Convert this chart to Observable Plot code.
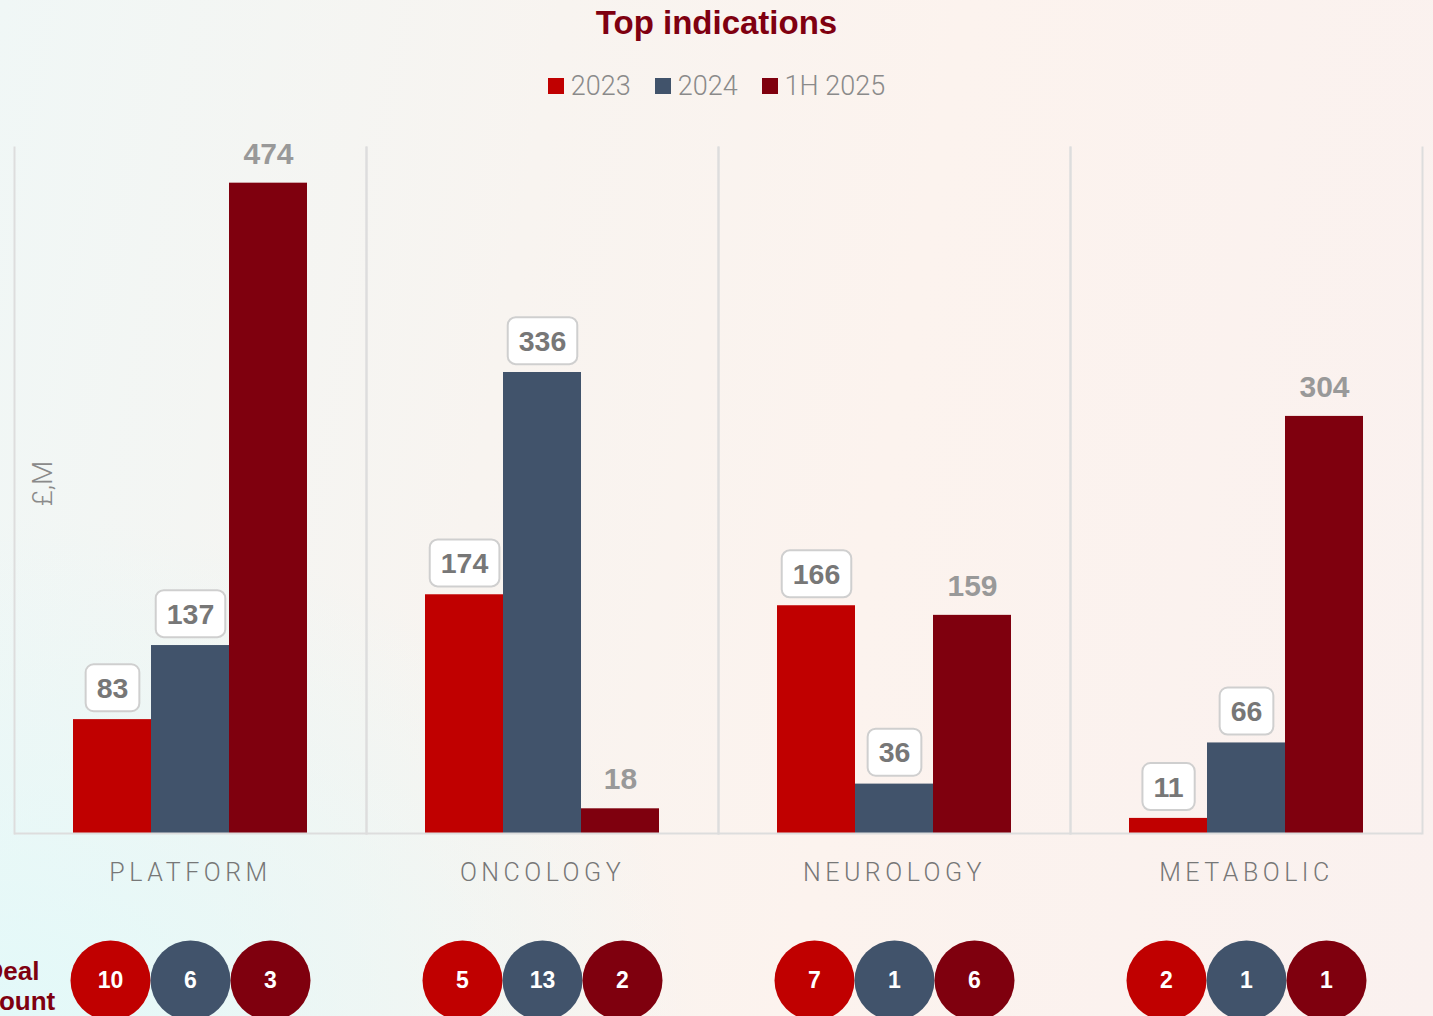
<!DOCTYPE html>
<html>
<head>
<meta charset="utf-8">
<script src="https://cdn.jsdelivr.net/npm/d3@7"></script>
<script src="https://cdn.jsdelivr.net/npm/@observablehq/plot@0.6"></script>
<style>
  html, body { margin: 0; padding: 0; }
  body {
    width: 1433px; height: 1016px; overflow: hidden;
    font-family: "Liberation Sans", Arial, sans-serif;
    background:
      radial-gradient(ellipse 700px 500px at 0% 100%, rgba(226,249,249,0.95), rgba(226,249,249,0) 100%),
      linear-gradient(100deg, #f0f7f6 0%, #f8f4f0 35%, #fcf3ee 60%, #faf1ef 100%);
  }
  #title { height: 46px; text-align: center; font-weight: bold; font-size: 33px; color: #7f0010; line-height: 46px; }
  #legend { height: 64px; display: flex; justify-content: center; align-items: center; gap: 24px; font-size: 27px; color: #8a8a8a; padding-top: 16px; box-sizing: border-box; font-family: Roboto, "Liberation Sans", sans-serif; font-weight: 300; }
  #legend .item { display: flex; align-items: center; gap: 7px; }
  #legend .sw { width: 16px; height: 16px; display: inline-block; }
  g[aria-description="cats"] text { letter-spacing: 4.5px; }
</style>
</head>
<body>
<div id="title">Top indications</div>
<div id="legend"></div>
<div id="chart"></div>
<script>
const categories = ["PLATFORM", "ONCOLOGY", "NEUROLOGY", "METABOLIC"];
const years = ["2023", "2024", "1H 2025"];
const colors = ["#c00000", "#41536b", "#7f000e"];
const values2023 = [83, 174, 166, 11];
const values2024 = [137, 336, 36, 66];
const values1H2025 = [474, 18, 159, 304];
const deals2023 = [10, 5, 7, 2];
const deals2024 = [6, 13, 1, 1];
const deals1H2025 = [3, 2, 6, 1];
const yLabel = "£,M";
const dealLabel = "Deal\ncount";
const bubbleOffsets = [-2, 0, 2];

const seriesValues = [values2023, values2024, values1H2025];
const seriesDeals = [deals2023, deals2024, deals1H2025];
const rows = [];
categories.forEach((c, ci) => years.forEach((y, yi) => rows.push({cat: c, year: y, value: seriesValues[yi][ci], deals: seriesDeals[yi][ci]})));

// legend
const lg = d3.select("#legend");
years.forEach((y, i) => {
  const it = lg.append("div").attr("class", "item");
  it.append("span").attr("class", "sw").style("background", colors[i]);
  it.append("span").text(y);
});

const boxed = rows.filter(d => d.year !== years[2]);
const plain = rows.filter(d => d.year === years[2]);

const bubbleMarks = years.flatMap((y, i) => {
  const data = rows.filter(d => d.year === y);
  return [
    Plot.dot(data, {fx: "cat", x: "year", frameAnchor: "bottom", dy: 147, dx: bubbleOffsets[i], r: 40, fill: "year", stroke: "none"}),
    Plot.text(data, {fx: "cat", x: "year", frameAnchor: "bottom", lineAnchor: "middle", dy: 147, dx: bubbleOffsets[i], text: d => String(d.deals), fill: "white", fontSize: 23, fontWeight: "bold"})
  ];
});

const chart = Plot.plot({
  width: 1433,
  height: 906,
  marginTop: 37,
  marginBottom: 183,
  marginLeft: 14,
  marginRight: 11,
  style: {background: "transparent", overflow: "visible", fontFamily: "Liberation Sans, Arial, sans-serif"},
  fx: {domain: categories, padding: 0, axis: null},
  x: {domain: years, paddingInner: 0, paddingOuter: 0.756, axis: null},
  y: {domain: [0, 500], axis: null},
  color: {domain: years, range: colors},
  marks: [
    Plot.frame({anchor: "left", stroke: "#dddddd", strokeWidth: 2}),
    Plot.frame({anchor: "right", stroke: "#dddddd", strokeWidth: 2}),
    Plot.barY(rows, {fx: "cat", x: "year", y: "value", fill: "year"}),
    Plot.ruleY([0], {stroke: "#dddddd", strokeWidth: 2}),
    Plot.text(boxed, {fx: "cat", x: "year", y: "value", text: d => String(d.value), dy: -31, fontSize: 28.5, fontWeight: "bold", fill: "#777777", ariaDescription: "boxed"}),
    Plot.text(plain, {fx: "cat", x: "year", y: "value", text: d => String(d.value), dy: -29, fontSize: 30, fontWeight: "bold", fill: "#999999"}),
    Plot.text(categories, {fx: d => d, text: d => d, frameAnchor: "bottom", lineAnchor: "middle", dy: 39, fontSize: 25, fontFamily: "Roboto, Liberation Sans, sans-serif", fontWeight: 300, fill: "#777777", ariaDescription: "cats"}),
    Plot.text([yLabel], {fx: [categories[0]], text: d => d, frameAnchor: "left", textAnchor: "middle", lineAnchor: "middle", dx: 29, dy: -7, rotate: -90, fontSize: 28, fontFamily: "Roboto, Liberation Sans, sans-serif", fontWeight: 300, fill: "#8a8a8a"}),
    ...bubbleMarks,
    Plot.text([dealLabel], {fx: [categories[0]], text: d => d, frameAnchor: "bottom-left", lineAnchor: "middle", dx: -30, dy: 152, textAnchor: "start", lineHeight: 1.15, fontSize: 26, fontWeight: "bold", fill: "#7f0010"})
  ]
});
document.getElementById("chart").appendChild(chart);

// rounded boxes behind 2023/2024 labels
const NS = "http://www.w3.org/2000/svg";
d3.select(chart).selectAll('g[aria-description="boxed"] text').each(function() {
  const b = this.getBBox();
  const cy = b.y + b.height / 2;
  const w = b.width + 22, h = 47;
  const r = document.createElementNS(NS, "rect");
  r.setAttribute("x", b.x + b.width / 2 - w / 2);
  r.setAttribute("y", cy - h / 2);
  r.setAttribute("width", w);
  r.setAttribute("height", h);
  r.setAttribute("rx", 8);
  r.setAttribute("fill", "white");
  r.setAttribute("stroke", "#cfcfcf");
  r.setAttribute("stroke-width", 2);
  const t = this.getAttribute("transform");
  if (t) r.setAttribute("transform", t);
  this.parentNode.insertBefore(r, this);
});
</script>
</body>
</html>
